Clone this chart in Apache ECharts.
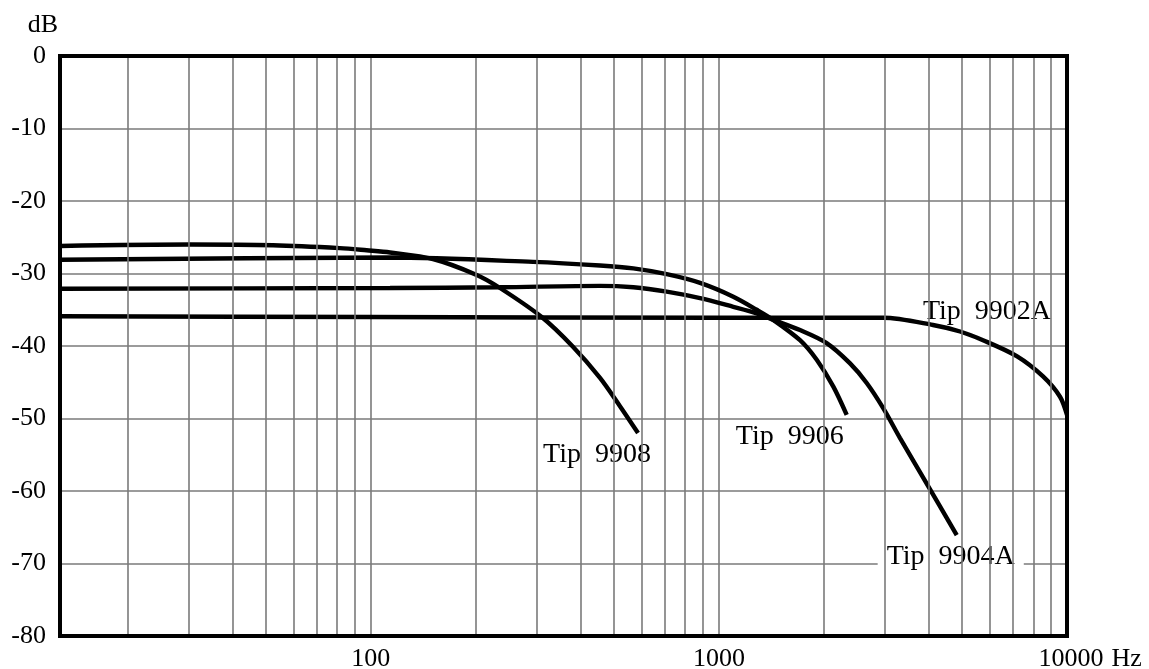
<!DOCTYPE html>
<html>
<head>
<meta charset="utf-8">
<script src="https://cdn.jsdelivr.net/npm/echarts@6/dist/echarts.min.js"></script>
<style>
  html, body { margin: 0; padding: 0; background: #fff; }
  #chart { width: 1149px; height: 669px; }
</style>
</head>
<body>
<div id="chart"></div>
<script>
// Frequency response of four tips: level (dB) against frequency (Hz, log scale)
const tip9908Hz = [12.8, 30.3, 52.4, 81.5, 97.3, 113.6, 150.9, 201.5, 235.1, 309.7, 380.9, 455.5, 519.8, 585.7];
const tip9908dB = [-26.2, -26.0, -26.1, -26.5, -26.8, -27.1, -28.0, -30.2, -32.0, -36.0, -40.1, -44.4, -48.3, -52.0];

const tip9906Hz = [12.8, 113.6, 292.4, 455.5, 567.9, 708.1, 882.8, 1100, 1284, 1433, 1710, 1910, 2132, 2329];
const tip9906dB = [-28.1, -27.8, -28.4, -28.9, -29.3, -30.1, -31.3, -33.2, -35.0, -36.4, -39.2, -41.9, -45.6, -49.5];

const tip9904AHz = [12.8, 113.6, 235.1, 455.5, 567.9, 708.1, 882.8, 1100, 1284, 1433, 1710, 2040, 2381, 2658, 2968, 3314, 3900, 4822];
const tip9904AdB = [-32.1, -32.0, -31.9, -31.7, -31.9, -32.5, -33.4, -34.6, -35.5, -36.4, -37.8, -39.6, -42.4, -45.1, -48.6, -52.7, -58.5, -66.1];

const tip9902AHz = [12.8, 100, 1000, 2968, 4122, 4929, 5737, 7170, 8533, 9548, 10000];
const tip9902AdB = [-35.9, -36.0, -36.1, -36.1, -37.1, -38.0, -39.2, -41.4, -44.2, -47.0, -49.5];

const curveNames = ['Tip  9908', 'Tip  9906', 'Tip  9904A', 'Tip  9902A'];

// Frequency axis range and labelled decades
const freqMin = 12.8;
const freqMax = 10000;
const decadeLabels = [100, 1000, 10000];
const freqUnit = 'Hz';
// Intermediate frequency grid lines (2..9 within each decade)
const minorGridHz = [20, 30, 40, 50, 60, 70, 80, 90,
                     200, 300, 400, 500, 600, 700, 800, 900,
                     2000, 3000, 4000, 5000, 6000, 7000, 8000, 9000];
// Level axis
const dbMin = -80, dbMax = 0, dbStep = 10;

const FONT = '"Liberation Serif", "Times New Roman", serif';
const GRID_COLOR = '#7a7a7a';

function pairs(xs, ys) {
  return xs.map((x, i) => [x, ys[i]]);
}

function curve(name, points) {
  return {
    name: name,
    type: 'line',
    z: 3,
    data: points,
    smooth: 0.3,
    symbol: 'none',
    lineStyle: { color: '#000', width: 4.4 },
    emphasis: { disabled: true },
    silent: true
  };
}

const p9908 = pairs(tip9908Hz, tip9908dB);
const p9906 = pairs(tip9906Hz, tip9906dB);
const p9904A = pairs(tip9904AHz, tip9904AdB);
const p9902A = pairs(tip9902AHz, tip9902AdB);

// Name boxes sit at the end of each curve, shifted clear of the line
const labelOffsets = [[-41, 22], [-57, 21.5], [-6, 21], [-80, -103]];
const labelPads = [[4, 10, 4, 10], [0, 10, 3, 10], [4, 9, 4, 9], [3, 6, 0, 6]];
const nameLabels = [p9908, p9906, p9904A, p9902A].map((pts, i) => ({
  value: pts[pts.length - 1],
  label: {
    show: true,
    formatter: curveNames[i],
    position: 'inside',
    offset: labelOffsets[i],
    color: '#000',
    fontFamily: FONT,
    fontSize: 28,
    backgroundColor: '#fff',
    padding: labelPads[i]
  }
}));

const chart = echarts.init(document.getElementById('chart'), null, { renderer: 'canvas' });

chart.setOption({
  animation: false,
  backgroundColor: '#fff',
  textStyle: { fontFamily: FONT },
  grid: {
    left: 60, right: 82, top: 56, bottom: 33,
    outerBoundsMode: 'none',
    containLabel: false,
    show: true,
    z: 10,
    borderColor: '#000',
    borderWidth: 4,
    backgroundColor: 'transparent'
  },
  xAxis: {
    type: 'log',
    logBase: 10,
    min: freqMin,
    max: freqMax,
    axisLine: { show: false },
    axisTick: { show: false },
    axisLabel: {
      color: '#000', fontFamily: FONT, fontSize: 26, margin: 10,
      showMinLabel: false,
      formatter: function (v) {
        const r = Math.round(v);
        if (decadeLabels.indexOf(r) < 0) return '';
        // the last decade carries the unit, kept centred on its number
        return r === freqMax ? '{pad|}' + r + '{unit| ' + freqUnit + '}' : String(r);
      },
      rich: {
        pad: { width: 48 },
        unit: { color: '#000', fontFamily: FONT, fontSize: 26, width: 40, align: 'left' }
      }
    },
    splitLine: { show: true, lineStyle: { color: GRID_COLOR, width: 1.6 } }
  },
  yAxis: {
    type: 'value',
    min: dbMin,
    max: dbMax,
    interval: dbStep,
    name: 'dB',
    nameLocation: 'end',
    nameGap: 18,
    nameTextStyle: {
      color: '#000', fontFamily: FONT, fontSize: 26,
      align: 'right', padding: [0, 2, 0, 0]
    },
    axisLine: { show: false },
    axisTick: { show: false },
    axisLabel: { color: '#000', fontFamily: FONT, fontSize: 26, margin: 14 },
    splitLine: { show: true, lineStyle: { color: GRID_COLOR, width: 1.6 } }
  },
  series: [
    {
      name: 'grid-minor',
      type: 'line',
      z: 1,
      data: [],
      silent: true,
      markLine: {
        silent: true,
        symbol: ['none', 'none'],
        animation: false,
        label: { show: false },
        emphasis: { disabled: true },
        lineStyle: { color: GRID_COLOR, width: 1.6, type: 'solid' },
        data: minorGridHz.map(v => ({ xAxis: v }))
      }
    },
    {
      name: 'names',
      type: 'scatter',
      z: 2,
      symbolSize: 1,
      itemStyle: { color: 'rgba(0,0,0,0)', opacity: 1 },
      emphasis: { disabled: true },
      silent: true,
      data: nameLabels
    },
    curve(curveNames[0], p9908),
    curve(curveNames[1], p9906),
    curve(curveNames[2], p9904A),
    curve(curveNames[3], p9902A)
  ]
});
</script>
</body>
</html>
